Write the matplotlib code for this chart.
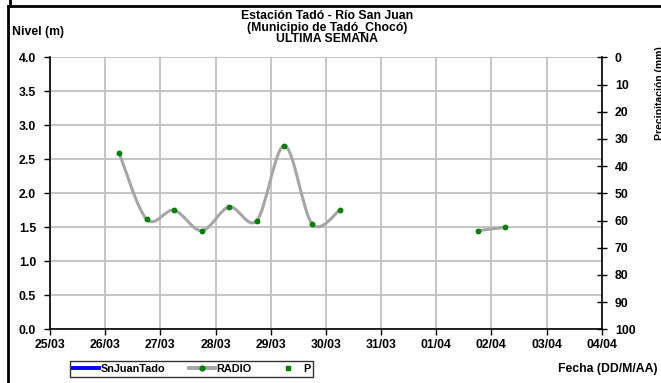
import matplotlib
matplotlib.use("Agg")
import matplotlib.pyplot as plt
import matplotlib.dates as mdates
from matplotlib.path import Path
from matplotlib.patches import PathPatch
from matplotlib.lines import Line2D
import numpy as np
import pandas as pd

plt.rcParams['font.family'] = ['Liberation Sans', 'DejaVu Sans']
plt.rcParams['font.weight'] = 'bold'

# ---- data ----
radio_times_a = ["2024-03-26 06:00", "2024-03-26 18:00", "2024-03-27 06:00",
                 "2024-03-27 18:00", "2024-03-28 06:00", "2024-03-28 18:00",
                 "2024-03-29 06:00", "2024-03-29 18:00", "2024-03-30 06:00"]
radio_vals_a = [2.60, 1.62, 1.75, 1.45, 1.80, 1.60, 2.70, 1.55, 1.75]
radio_times_b = ["2024-04-01 18:00", "2024-04-02 06:00"]
radio_vals_b = [1.45, 1.50]
xtick_dates = pd.date_range("2024-03-25", "2024-04-04", freq="D")
xtick_labels = [d.strftime("%d/%m") for d in xtick_dates]
yticks_left = [0.0, 0.5, 1.0, 1.5, 2.0, 2.5, 3.0, 3.5, 4.0]
yticks_right = [0, 10, 20, 30, 40, 50, 60, 70, 80, 90, 100]

title_lines = "Estación Tadó - Río San Juan\n(Municipio de Tadó_Chocó)\nULTIMA SEMANA"

W, H = 661, 383
fig = plt.figure(figsize=(W / 100, H / 100), dpi=100)
ax = fig.add_axes([50 / W, 1 - 329.3 / H, (601.7 - 50) / W, (329.3 - 57.3) / H])

GRID = "#c0c0c0"
LINE = "#a6a6a6"
GREEN = "#008000"
FS = 8.8


def smooth_path(xs, ys):
    """Excel-like smoothed line (Catmull-Rom as cubic Bezier)."""
    pts = np.column_stack([xs, ys])
    n = len(pts)
    verts = [pts[0]]
    codes = [Path.MOVETO]
    for i in range(n - 1):
        p0 = pts[i - 1] if i > 0 else pts[i]
        p1 = pts[i]
        p2 = pts[i + 1]
        p3 = pts[i + 2] if i + 2 < n else pts[i + 1]
        c1 = p1 + (p2 - p0) / 6.0
        c2 = p2 - (p3 - p1) / 6.0
        verts += [c1, c2, p2]
        codes += [Path.CURVE4] * 3
    return Path(verts, codes)


for tlist, vlist in [(radio_times_a, radio_vals_a), (radio_times_b, radio_vals_b)]:
    xs = mdates.date2num(pd.to_datetime(tlist))
    path = smooth_path(xs, vlist)
    ax.add_patch(PathPatch(path, facecolor="none", edgecolor=LINE, lw=2.2,
                           capstyle="round", joinstyle="round", zorder=3))
    ax.plot(xs, vlist, linestyle="none", marker="o", ms=4.2, color=GREEN,
            markeredgewidth=0, zorder=4)

xd = mdates.date2num(xtick_dates)
ax.set_xlim(xd[0], xd[-1])
ax.set_ylim(0, 4)
ax.set_xticks(xd)
ax.set_xticklabels(xtick_labels, fontsize=FS, fontweight="bold")
ax.set_yticks(yticks_left)
ax.set_yticklabels([f"{v:.1f}" for v in yticks_left], fontsize=FS, fontweight="bold")
ax.grid(True, color=GRID, lw=1.3, zorder=0)
ax.set_axisbelow(True)
for s in ["top", "right"]:
    ax.spines[s].set_visible(False)
for s in ["left", "bottom"]:
    ax.spines[s].set_color("black")
    ax.spines[s].set_linewidth(1.2)
ax.tick_params(axis="both", direction="out", length=4, width=1, color="black",
               pad=3)
ax.tick_params(axis="y", pad=6)

ax2 = ax.twinx()
ax2.set_ylim(100, 0)
ax2.set_yticks(yticks_right)
ax2.set_yticklabels([str(v) for v in yticks_right], fontsize=FS, fontweight="bold")
for s in ["top", "left", "bottom"]:
    ax2.spines[s].set_visible(False)
ax2.spines["right"].set_color("black")
ax2.spines["right"].set_linewidth(1.2)
ax2.tick_params(axis="y", direction="inout", length=7, width=1, pad=6)

# texts
fig.text(327 / W, 1 - 10 / H, title_lines, ha="center", va="top", fontsize=FS,
         fontweight="bold", linespacing=0.95)
fig.text(12 / W, 1 - 32 / H, "Nivel (m)", ha="left", va="center", fontsize=FS,
         fontweight="bold")
fig.text(657 / W, 1 - 369 / H, "Fecha (DD/M/AA)", ha="right", va="center",
         fontsize=FS, fontweight="bold")
fig.text(655 / W, 1 - 46 / H, "Precipitación (mm)", ha="left", va="top",
         rotation=90, fontsize=7.5, fontweight="bold")

# legend
handles = [
    Line2D([], [], color="#0000ff", lw=2.8),
    Line2D([], [], color=LINE, lw=2.8, marker="o", ms=3.5, mfc=GREEN, mec=GREEN),
    Line2D([], [], color=GREEN, lw=0, marker="s", ms=2.8),
]
leg = fig.legend(handles, ["SnJuanTado", "RADIO", "P"], ncol=3,
                 loc="center", bbox_to_anchor=(191.5 / W, 1 - 369 / H),
                 prop={"size": 7.8, "weight": "bold"}, frameon=True,
                 fancybox=False, edgecolor="black", handlelength=2.4,
                 handletextpad=0.2, columnspacing=2.1, borderpad=0.3,
                 borderaxespad=0)
leg.get_frame().set_linewidth(1.0)

# outer frame lines
fig.add_artist(Line2D([8 / W, 8 / W], [0, 1 - 6 / H], color="black", lw=2,
                      transform=fig.transFigure))
fig.add_artist(Line2D([8 / W, 1], [1 - 6 / H, 1 - 6 / H], color="black", lw=2,
                      transform=fig.transFigure))
fig.add_artist(Line2D([10 / W, 10 / W], [1, 1 - 6 / H], color="black", lw=2,
                      transform=fig.transFigure))

fig.savefig("out.png", dpi=100)
